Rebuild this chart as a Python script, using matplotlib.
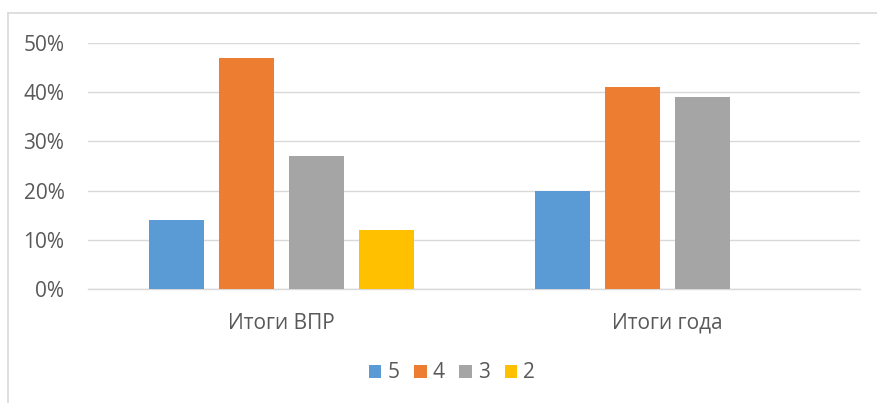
import matplotlib
matplotlib.use("Agg")
import matplotlib.pyplot as plt
from matplotlib.lines import Line2D
from matplotlib.patches import Patch
import numpy as np

categories = ["Итоги ВПР", "Итоги года"]
series_names = ["5", "4", "3", "2"]
vals_5 = [0.14, 0.20]
vals_4 = [0.47, 0.41]
vals_3 = [0.27, 0.39]
vals_2 = [0.12, 0.0]
yticks = [0.0, 0.1, 0.2, 0.3, 0.4, 0.5]
ytick_labels = ["0%", "10%", "20%", "30%", "40%", "50%"]

colors = ["#5B9BD5", "#ED7D31", "#A5A5A5", "#FFC000"]
text_color = "#595959"

plt.rcParams['font.family'] = ['Open Sans', 'DejaVu Sans']

fig = plt.figure(figsize=(8.77, 4.03), dpi=100)
W, H = 877, 403
ax = fig.add_axes([88 / W, (H - 289) / H, (860 - 88) / W, (289 - 43) / H])

x = np.arange(len(categories))
width = 55 / 386
step = 70 / 386
all_vals = [vals_5, vals_4, vals_3, vals_2]
for i, (name, vals) in enumerate(zip(series_names, all_vals)):
    offs = (i - 1.5) * step
    ax.bar(x + offs, vals, width=width, color=colors[i], label=name, zorder=3)

ax.set_xlim(-0.5, 1.5)
ax.set_ylim(0, 0.5)
ax.set_yticks(yticks)
ax.set_yticklabels(ytick_labels)
ax.set_xticks(x)
ax.set_xticklabels(categories)
ax.grid(axis='y', color="#D9D9D9", linewidth=1.0, zorder=0)
for s in ["top", "right", "left"]:
    ax.spines[s].set_visible(False)
ax.spines["bottom"].set_color("#D9D9D9")
ax.spines["bottom"].set_linewidth(1.0)
ax.tick_params(axis='both', length=0, colors=text_color, labelsize=15)
ax.tick_params(axis='y', pad=17)
ax.tick_params(axis='x', pad=17)

handles = [Patch(facecolor=c, edgecolor='none') for c in colors]
fig.legend(handles, series_names, loc='center', bbox_to_anchor=(452 / W, (H - 373) / H),
           ncol=4, frameon=False, fontsize=15, handlelength=0.6, handleheight=0.6,
           handletextpad=0.3, columnspacing=0.7, labelcolor=text_color)

# chart border (left and top visible)
fig.add_artist(Line2D([7.5 / W, 7.5 / W], [0, (H - 13) / H], color="#D9D9D9", lw=1.2, transform=fig.transFigure))
fig.add_artist(Line2D([7.5 / W, 1.0], [(H - 13) / H, (H - 13) / H], color="#D9D9D9", lw=1.2, transform=fig.transFigure))

fig.savefig("out.png", dpi=100)
